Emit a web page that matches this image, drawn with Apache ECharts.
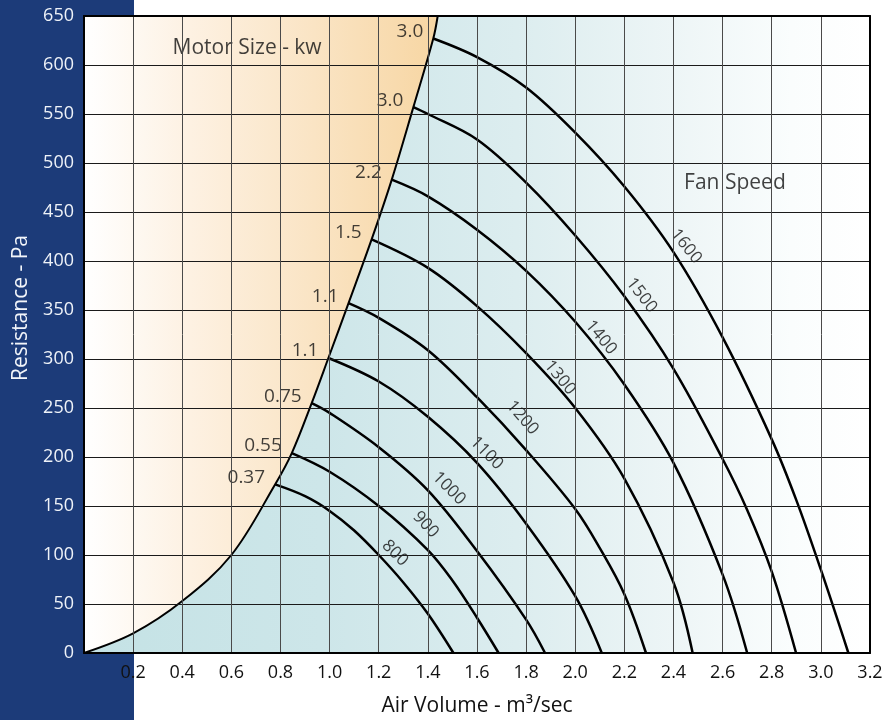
<!DOCTYPE html>
<html><head><meta charset="utf-8">
<script src="https://cdn.jsdelivr.net/npm/echarts@6/dist/echarts.min.js"></script>
<style>
html,body{margin:0;padding:0;}
body{background:linear-gradient(to right,#1c3b79 0,#1c3b79 134px,#ffffff 134px);width:886px;height:720px;overflow:hidden;}
#chart{width:886px;height:720px;}
</style></head><body><div id="chart"></div>
<script>
// ---- data ----
const xTickLabels = ['', '0.2','0.4','0.6','0.8','1.0','1.2','1.4','1.6','1.8','2.0','2.2','2.4','2.6','2.8','3.0','3.2'];
const yTickLabels = ['0','50','100','150','200','250','300','350','400','450','500','550','600','650'];
const speeds  = [800, 900, 1000, 1100, 1200, 1300, 1400, 1500, 1600];
const motorKw = ['0.37','0.55','0.75','1.1','1.1','1.5','2.2','3.0','3.0'];

const systemCurve = [[0,0],[0.2,20],[0.4,53],[0.6,100],[0.778,172],[0.846,204],[0.927,255],[0.995,301],[1.077,357],[1.171,422],[1.253,483],[1.341,557],[1.422,627],[1.44,650]];

const fan800  = [[0.778,172],[0.9,160],[1.0,145],[1.1,125],[1.2,100],[1.3,72],[1.4,40],[1.504,0]];
const fan900  = [[0.846,204],[1.0,185],[1.2,150],[1.4,105],[1.5,74],[1.6,36],[1.688,0]];
const fan1000 = [[0.927,255],[1.0,245],[1.2,210],[1.4,166],[1.6,104],[1.8,34],[1.877,0]];
const fan1100 = [[0.995,301],[1.2,277],[1.4,241],[1.6,194],[1.8,132],[2.0,58],[2.108,0]];
const fan1200 = [[1.077,357],[1.2,342],[1.4,309],[1.6,261],[1.8,207],[2.0,147],[2.1,107],[2.2,60],[2.288,0]];
const fan1300 = [[1.171,422],[1.4,393],[1.6,354],[1.8,306],[2.0,250],[2.2,178],[2.4,72],[2.478,0]];
const fan1400 = [[1.253,483],[1.4,466],[1.6,432],[1.8,390],[2.0,338],[2.2,274],[2.4,194],[2.6,80],[2.700,0]];
const fan1500 = [[1.341,557],[1.4,550],[1.6,524],[1.8,480],[2.0,426],[2.2,364],[2.4,290],[2.6,198],[2.7,146],[2.8,83],[2.899,0]];
const fan1600 = [[1.422,627],[1.6,608],[1.8,577],[2.0,531],[2.2,476],[2.4,409],[2.6,322],[2.8,218],[2.9,156],[3.0,85],[3.112,0]];

// where each fan-speed label sits (data space)
const speedLabelAt = [[1.266,102],[1.391,131],[1.486,168],[1.639,204],[1.785,240],[1.938,281],[2.105,322],[2.27,365],[2.451,415]];
const noteTexts = ['Motor Size - kw', 'Fan Speed'];
const noteAt = [[0.664,617],[2.65,480]];

// ---- chart ----
const fanCurves = [fan800, fan900, fan1000, fan1100, fan1200, fan1300, fan1400, fan1500, fan1600];
const speedAngles = [-45,-47,-45,-45,-49,-50,-50,-52,-51];
const FONT = 'Open Sans';
const chart = echarts.init(document.getElementById('chart'), null, {renderer:'canvas'});

const series = [];
series.push({
  type:'line', data: systemCurve, smooth:0.35, symbol:'none', z:2,
  lineStyle:{color:'#000', width:2},
  areaStyle:{origin:'end', opacity:1,
    color:new echarts.graphic.LinearGradient(0,0,1,0,[
      {offset:0,color:'#ffffff'},{offset:0.3,color:'#fdf1e2'},{offset:0.65,color:'#fae4c4'},{offset:1,color:'#f7d6a3'}])}
});
fanCurves.forEach((c,i)=>{
  series.push({type:'line', name:String(speeds[i]), data:c, smooth:0.35, symbol:'none', z:3,
    lineStyle:{color:'#000', width:2.5}});
});
series.push({
  type:'scatter', symbolSize:0, z:4,
  data: fanCurves.map((c,i)=>({value:c[0], name:motorKw[i]})),
  label:{show:true, position:'left', distance:10, offset:[0,-7], formatter:p=>p.name,
    color:'#111', fontSize:19, fontFamily:FONT}
});
series.push({
  type:'scatter', symbolSize:0, z:4,
  data: speedLabelAt.map((p,i)=>({value:p, name:String(speeds[i]),
    label:{rotate:speedAngles[i]}})),
  label:{show:true, position:'inside', formatter:p=>p.name,
    color:'#111', fontSize:17, fontFamily:FONT}
});
series.push({
  type:'scatter', symbolSize:0, z:4,
  data: noteAt.map((p,i)=>({value:p, name:noteTexts[i]})),
  label:{show:true, position:'inside', formatter:p=>p.name,
    color:'#111', fontSize:21, fontFamily:FONT}
});

const option = {
  backgroundColor:'transparent',
  animation:false,
  grid:{left:84, right:16, top:16, bottom:67, show:true, borderWidth:0, outerBoundsMode:'none', containLabel:false,
    backgroundColor:new echarts.graphic.LinearGradient(0,0,1,0,[
      {offset:0,color:'#c4e2e5'},{offset:0.3,color:'#cde6e9'},{offset:0.55,color:'#dcedef'},{offset:0.75,color:'#edf5f6'},{offset:0.9,color:'#fafdfd'},{offset:1,color:'#ffffff'}])},
  graphic:[{
    type:'text', x:21, y:308, rotation:Math.PI/2, z:10,
    style:{text:'Resistance - Pa', align:'center', verticalAlign:'middle', fill:'#f2f5fa',
      font:'21px "Open Sans"'}
  }],
  xAxis:[{
    type:'value', min:0, max:3.2, interval:0.2, z:6,
    name:'Air Volume - m³/sec', nameLocation:'middle', nameGap:43,
    nameTextStyle:{color:'#111', fontSize:21, fontFamily:FONT},
    axisLine:{show:true, onZero:false, lineStyle:{color:'#000', width:2}},
    axisTick:{show:false},
    axisLabel:{color:'#111', fontSize:18, fontFamily:FONT, margin:11,
      formatter:(v)=>xTickLabels[Math.round(v/0.2)] || ''},
    splitLine:{show:true, lineStyle:{color:'#4a4a4a', width:1}}
  },{
    type:'value', min:0, max:3.2, interval:0.2, position:'top', z:6,
    axisLine:{show:true, onZero:false, lineStyle:{color:'#000', width:2}},
    axisTick:{show:false}, axisLabel:{show:false}, splitLine:{show:false}
  }],
  yAxis:[{
    type:'value', min:0, max:650, interval:50, z:6,
    axisLine:{show:true, onZero:false, lineStyle:{color:'#000', width:2}},
    axisTick:{show:false},
    axisLabel:{color:'#eef2f8', fontSize:18, fontFamily:FONT, margin:10,
      formatter:(v)=>yTickLabels[Math.round(v/50)] || ''},
    splitLine:{show:true, lineStyle:{color:'#1a1a1a', width:1}}
  },{
    type:'value', min:0, max:650, interval:50, position:'right', z:6,
    axisLine:{show:true, onZero:false, lineStyle:{color:'#000', width:2}},
    axisTick:{show:false}, axisLabel:{show:false}, splitLine:{show:false}
  }],
  series: series
};
chart.setOption(option);
</script></body></html>
